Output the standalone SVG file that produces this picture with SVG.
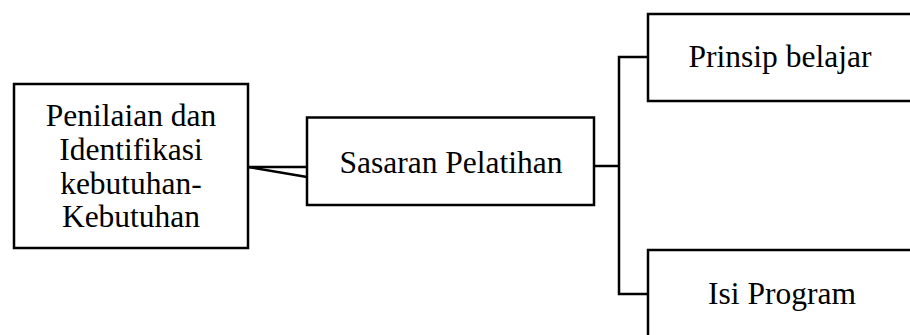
<svg xmlns="http://www.w3.org/2000/svg" width="910" height="335" viewBox="0 0 910 335">
  <style>
    .box { fill: #ffffff; stroke: #000000; stroke-width: 2.5; }
    .link { fill: none; stroke: #000000; stroke-width: 2.5; }
    .label { font-family: "Liberation Serif", "Times New Roman", serif; font-size: 31.5px; fill: #000000; text-anchor: middle; }
  </style>
  <rect width="910" height="335" fill="#ffffff"/>
  <g id="connectors">
    <line class="link" x1="248" y1="167" x2="307" y2="167"/>
    <line class="link" x1="248" y1="167" x2="307" y2="177"/>
    <line class="link" x1="594" y1="166" x2="619" y2="166"/>
    <polyline class="link" points="648,57 619,57 619,294 648,294"/>
  </g>
  <g id="node-penilaian">
    <rect class="box" x="14" y="84" width="234" height="164"/>
    <text class="label" x="131" y="126">Penilaian dan</text>
    <text class="label" x="131" y="160">Identifikasi</text>
    <text class="label" x="131" y="193.5">kebutuhan-</text>
    <text class="label" x="131" y="227">Kebutuhan</text>
  </g>
  <g id="node-sasaran">
    <rect class="box" x="307" y="117.5" width="287" height="87.5"/>
    <text class="label" x="451" y="173">Sasaran Pelatihan</text>
  </g>
  <g id="node-prinsip">
    <rect class="box" x="648" y="14" width="264" height="87"/>
    <text class="label" x="780" y="67">Prinsip belajar</text>
  </g>
  <g id="node-isi">
    <rect class="box" x="648" y="250" width="264" height="100"/>
    <text class="label" x="782" y="304">Isi Program</text>
  </g>
</svg>
